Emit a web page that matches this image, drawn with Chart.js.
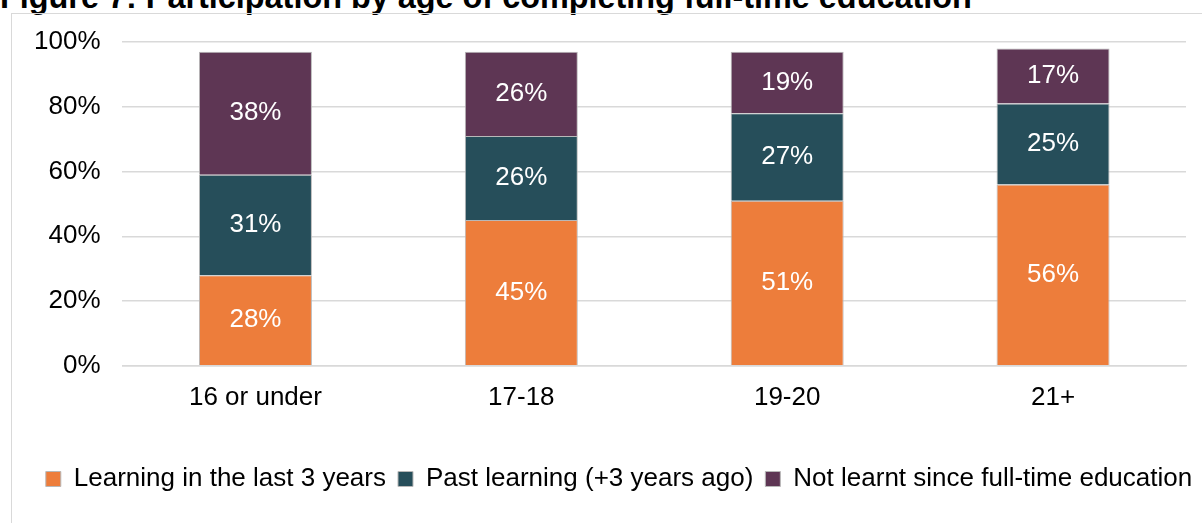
<!DOCTYPE html>
<html>
<head>
<meta charset="utf-8">
<script src="https://cdn.jsdelivr.net/npm/chart.js@4"></script>
<style>
  html, body { margin: 0; padding: 0; background: #fff; overflow: hidden; }
  body { width: 1202px; height: 523px; position: relative; font-family: "Liberation Sans", Arial, sans-serif; }
  #title { position: absolute; left: 0; top: -21px; font-size: 32.4px; font-weight: bold; color: #000; white-space: nowrap; }
  #frame { position: absolute; left: 11px; top: 13px; width: 1250px; height: 600px; border: 1.5px solid #d9d9d9; }
  #wrap { position: absolute; left: 12px; top: 14px; width: 1190px; height: 509px; }
</style>
</head>
<body>
<div id="title">Figure 7: Participation by age of completing full-time education</div>
<div id="frame"></div>
<div id="wrap"><canvas id="myChart"></canvas></div>
<script>
// All data
const categories = ["16 or under", "17-18", "19-20", "21+"];
const learning_recent = [28, 45, 51, 56];
const learning_past = [31, 26, 27, 25];
const not_learnt = [38, 26, 19, 17];
const y_ticks = [0, 20, 40, 60, 80, 100];

const FONT = '"Liberation Sans", Arial, sans-serif';

// white % labels in the middle of each bar piece
const barLabels = {
  id: 'barLabels',
  afterLayout(chart) {
    // legend sits a bit right of centre in the original
    chart.legend.left += 20;
    chart.legend.right += 20;
  },
  afterDatasetsDraw(chart) {
    const ctx = chart.ctx;
    ctx.save();
    ctx.fillStyle = '#ffffff';
    ctx.font = '26px ' + FONT;
    ctx.textAlign = 'center';
    ctx.textBaseline = 'middle';
    chart.data.datasets.forEach(function (ds, i) {
      chart.getDatasetMeta(i).data.forEach(function (bar, j) {
        ctx.fillText(ds.data[j] + '%', bar.x, (bar.y + bar.base) / 2);
      });
    });
    ctx.restore();
  }
};

const data = {
  labels: categories,
  datasets: [{
    label: 'Learning in the last 3 years',
    backgroundColor: '#ed7d3b',
    data: learning_recent,
  },
  {
    label: 'Past learning (+3 years ago)',
    backgroundColor: '#264e5a',
    data: learning_past,
  },
  {
    label: 'Not learnt since full-time education',
    backgroundColor: '#5e3654',
    data: not_learnt,
  }]
};

const config = {
  type: 'bar',
  data: data,
  plugins: [barLabels],
  options: {
    responsive: true,
    maintainAspectRatio: false,
    animation: false,
    datasets: { bar: { categoryPercentage: 1, barPercentage: 0.425, borderWidth: 1, borderColor: '#b8b8b8', borderSkipped: 'start' } },
    layout: { padding: { top: 0, right: 16, left: 0, bottom: 21 } },
    plugins: {
      legend: {
        position: 'bottom',
        labels: {
          color: '#000',
          font: { family: FONT, size: 26 },
          boxWidth: 15, boxHeight: 15, padding: 12
        }
      },
      tooltip: { enabled: false }
    },
    scales: {
      x: {
        stacked: true,
        grid: { display: false },
        border: { color: '#d9d9d9', width: 1.5 },
        ticks: { color: '#000', font: { family: FONT, size: 26 }, padding: 8 },
        afterFit: function (axis) { axis.height += 33; }
      },
      y: {
        stacked: true,
        min: 0,
        max: 100,
        afterBuildTicks: function (axis) { axis.ticks = y_ticks.map(v => ({ value: v })); },
        afterFit: function (axis) { axis.paddingTop = 28; },
        grid: { color: '#d9d9d9', lineWidth: 1.5, drawTicks: false },
        border: { display: false },
        ticks: {
          color: '#000',
          font: { family: FONT, size: 26 },
          padding: 22,
          callback: v => v + '%'
        }
      }
    }
  }
};

const myChart = new Chart(document.getElementById('myChart'), config);
</script>
</body>
</html>
